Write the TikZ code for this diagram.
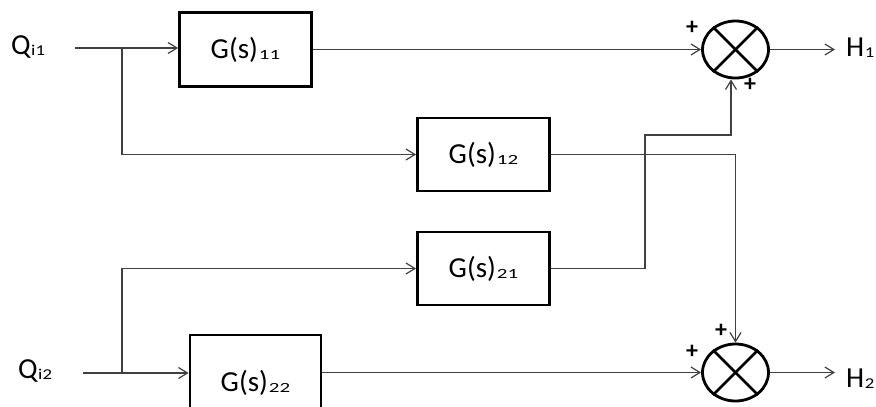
\documentclass[tikz,border=0pt]{standalone}
\usepackage{fontspec}
\setmainfont{Carlito}
\usetikzlibrary{arrows.meta,shapes.geometric}
\newcommand{\sbx}[1]{\hspace{1pt}\raisebox{-1pt}{\scalebox{1.5}[1]{\fontsize{14}{14}\selectfont #1}}}
\newcommand{\sbq}[1]{\hspace{0.5pt}\raisebox{-1pt}{\scalebox{1.25}[1]{\fontsize{15}{15}\selectfont #1}}}
\begin{document}
\begin{tikzpicture}[x=1pt,y=-1pt,
  blk/.style={draw, line width=2.8pt, minimum width=132pt, minimum height=74pt, inner sep=0pt, font=\fontsize{29}{29}\selectfont},
  sumnode/.style={draw, ellipse, line width=2.8pt, minimum width=66pt, minimum height=57pt, inner sep=0pt},
  lbl/.style={font=\fontsize{29}{29}\selectfont, inner sep=0pt, anchor=base west},
  pl/.style={font=\bfseries\fontsize{24}{24}\selectfont, inner sep=0pt},
  wire/.style={line width=1.2pt, draw=black!75},
  arr/.style={wire, -{Straight Barb[length=9pt,width=11pt,line width=1.2pt]}}]
\useasboundingbox (0,0) rectangle (876,407);
\begin{scope}
\clip (0,0) rectangle (876,407);
% blocks
\node[blk] (g11) at (245.5,49.5) {G(s)\sbx{11}};
\node[blk, minimum height=73pt] (g12) at (483.5,154.5) {G(s)\sbx{12}};
\node[blk, minimum height=73pt] (g21) at (483.5,268.5) {G(s)\sbx{21}};
\node[blk, minimum width=131pt, minimum height=96pt] (g22) at (255.5,383) {G(s)\sbx{22}};
% summing junctions
\node[sumnode] (s1) at (735.5,49.5) {};
\node[sumnode] (s2) at (735.5,372.5) {};
\foreach \s in {s1,s2}{
  \draw[line width=2.8pt] (\s.135) -- (\s.-45);
  \draw[line width=2.8pt] (\s.45) -- (\s.-135);
}
% labels
\node[lbl] (q1) at (11,54) {Q\sbq{i1}};
\node[lbl] (q2) at (18,378) {Q\sbq{i2}};
\node[lbl] (h1) at (846,56) {H\sbq{1}};
\node[lbl] (h2) at (846,387) {H\sbq{2}};
\node[pl] (p1) at (692,28) {+};
\node[pl] (p2) at (750,85) {+};
\node[pl] (p3) at (692,352) {+};
\node[pl] (p4) at (721,331) {+};
% coordinates
\coordinate (a1) at (75,48);
\coordinate (b1) at (122,48);
\coordinate (a2) at (83,373);
\coordinate (b2) at (122,373);
\coordinate (e1) at (835,49.5);
\coordinate (e2) at (835,372.5);
\coordinate (k1) at (645,268.5);
\coordinate (k2) at (645,135);
\coordinate (k3) at (731,135);
\coordinate (k4) at (735.5,154.5);
% wires
\draw[arr] (a1) -- (a1 -| g11.west);
\draw[arr] (b1) |- (g12.west);
\draw[arr] (g11.east |- s1.west) -- (s1.west);
\draw[arr] (s1.east) -- (e1);
\draw[arr] (a2) -- (a2 -| g22.west);
\draw[arr] (b2) |- (g21.west);
\draw[arr] (g22.east |- s2.west) -- (s2.west);
\draw[arr] (s2.east) -- (e2);
\draw[arr] (g12.east) -- (k4) -- (s2.north);
\draw[arr] (g21.east) -- (k1) -- (k2) -- (k3) -- (k3 |- s1.south);
\end{scope}
\end{tikzpicture}
\end{document}
